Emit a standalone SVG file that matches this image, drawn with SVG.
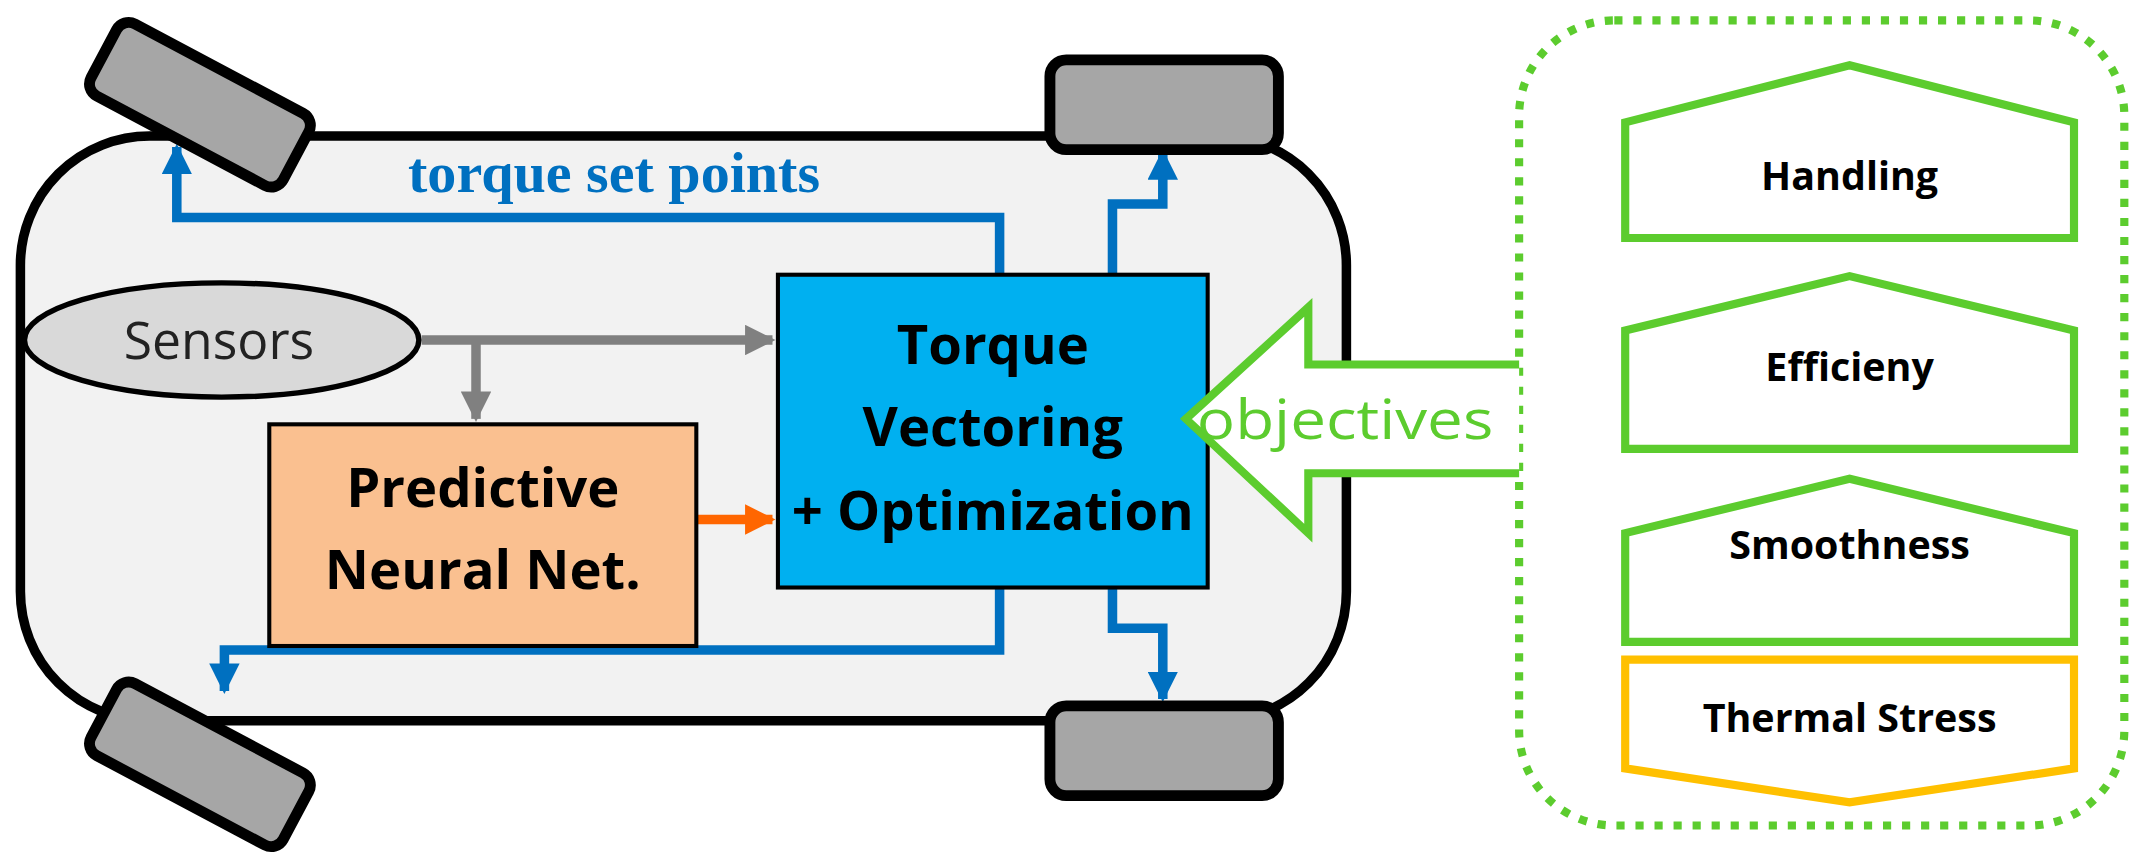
<svg xmlns="http://www.w3.org/2000/svg" width="2132" height="853" viewBox="0 0 2132 853">
<style>
.wheel{fill:#a6a6a6;stroke:#000;stroke-width:8}
.t{font-family:"Open Sans","Liberation Sans",sans-serif;font-weight:bold;text-anchor:middle;fill:#000}
.obj{fill:#fff;stroke:#5ccc2e;stroke-width:6}
.blue{fill:none;stroke:#0070c0;stroke-width:7}
.gray{fill:none;stroke:#808080;stroke-width:7}
</style>
<defs>
<marker id="ab" viewBox="0 0 10 10" refX="9" refY="5" markerWidth="3.2" markerHeight="3.2" orient="auto"><path d="M0,0L10,5L0,10z" fill="#0070c0"/></marker>
<marker id="ag" viewBox="0 0 10 10" refX="9" refY="5" markerWidth="3.2" markerHeight="3.2" orient="auto"><path d="M0,0L10,5L0,10z" fill="#808080"/></marker>
<marker id="ao" viewBox="0 0 10 10" refX="9" refY="5" markerWidth="3.2" markerHeight="3.2" orient="auto"><path d="M0,0L10,5L0,10z" fill="#ff6600"/></marker>
</defs>
<rect width="2132" height="853" fill="#fff"/>
<g transform="scale(1.36)">
<g id="car">
<rect x="15" y="100" width="975" height="430" rx="95" fill="#f2f2f2" stroke="#000" stroke-width="7"/>
</g>
<g id="connectors">
<path class="blue" d="M735,202V160H130V108" marker-end="url(#ab)"/>
<path class="blue" d="M818,202V150H855V112" marker-end="url(#ab)"/>
<path class="blue" d="M735,432V478H165V508" marker-end="url(#ab)"/>
<path class="blue" d="M818,432V462H855V514" marker-end="url(#ab)"/>
<path class="gray" d="M310,250H568" marker-end="url(#ag)"/>
<path class="gray" d="M350,250V308" marker-end="url(#ag)"/>
<path d="M512,382H568" fill="none" stroke="#ff6600" stroke-width="7" marker-end="url(#ao)"/>
</g>
<g id="wheels">
<rect class="wheel" x="-80" y="-30" width="160" height="60" rx="10" transform="translate(147,77) rotate(28)"/>
<rect class="wheel" x="772" y="44" width="168" height="66" rx="12"/>
<rect class="wheel" x="-80" y="-30" width="160" height="60" rx="10" transform="translate(147,562) rotate(28)"/>
<rect class="wheel" x="772" y="519" width="168" height="66" rx="12"/>
</g>
<text x="300" y="141" font-family="Liberation Serif,serif" font-weight="bold" font-size="42" fill="#0070c0" textLength="303" lengthAdjust="spacingAndGlyphs">torque set points</text>
<g id="sensors">
<ellipse cx="163" cy="250" rx="145" ry="42" fill="#d9d9d9" stroke="#000" stroke-width="4"/>
<text x="161" y="264" font-family="Open Sans,Liberation Sans,sans-serif" font-size="38" text-anchor="middle" fill="#222">Sensors</text>
</g>
<g id="nn">
<rect x="198" y="312" width="314" height="163" fill="#fac090" stroke="#000" stroke-width="3"/>
<text class="t" x="355" y="373" font-size="40">Predictive</text>
<text class="t" x="355" y="433" font-size="40">Neural Net.</text>
</g>
<g id="tv">
<rect x="572" y="202" width="316" height="230" fill="#00b0f0" stroke="#000" stroke-width="3"/>
<text class="t" x="730" y="268" font-size="40">Torque</text>
<text class="t" x="730" y="328" font-size="40">Vectoring</text>
<text class="t" x="730" y="390" font-size="40">+ Optimization</text>
</g>
<g id="objectives">
<rect x="1117" y="15" width="445" height="592" rx="70" fill="none" stroke="#5ccc2e" stroke-width="6" stroke-dasharray="6,8"/>
<path d="M1117,268H962V226L872,308L962,392V348H1117" fill="#fff" stroke="#5ccc2e" stroke-width="6"/>
<text x="880" y="323" font-family="Open Sans,Liberation Sans,sans-serif" font-size="40" fill="#5ccc2e" textLength="218" lengthAdjust="spacingAndGlyphs">objectives</text>
</g>
<g id="handling"><path class="obj" d="M1195,90L1360,48L1525,90V175H1195z"/><text class="t" x="1360" y="140" font-size="29">Handling</text></g>
<g id="efficieny"><path class="obj" d="M1195,243L1360,203L1525,243V330H1195z"/><text class="t" x="1360" y="280" font-size="29">Efficieny</text></g>
<g id="smoothness"><path class="obj" d="M1195,392L1360,352L1525,392V472H1195z"/><text class="t" x="1360" y="411" font-size="29">Smoothness</text></g>
<g id="thermal"><path d="M1195,485H1525V565L1360,590L1195,565z" fill="#fff" stroke="#ffc000" stroke-width="6"/><text class="t" x="1360" y="538" font-size="29">Thermal Stress</text></g>
</g>
</svg>
